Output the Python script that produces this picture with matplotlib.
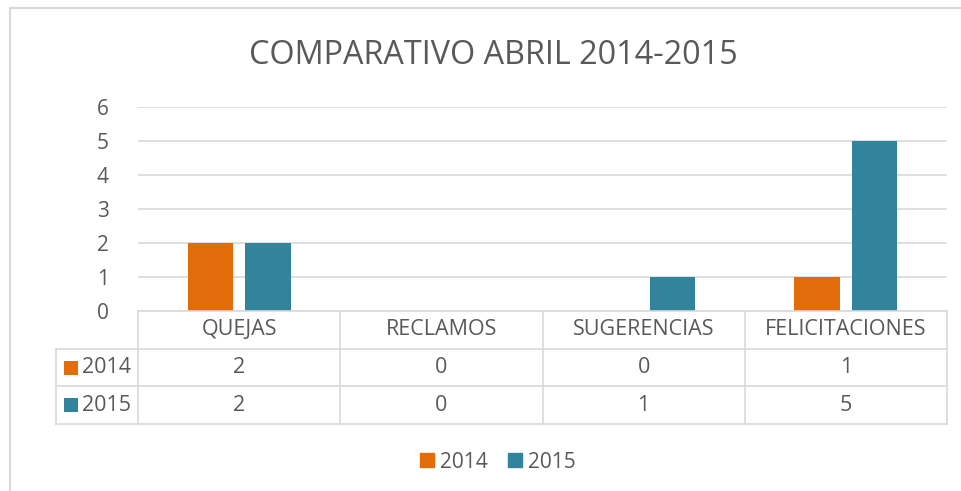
import matplotlib.pyplot as plt
import numpy as np

categories = ["QUEJAS", "RECLAMOS", "SUGERENCIAS", "FELICITACIONES"]
series_names = ["2014", "2015"]
values_2014 = [2, 0, 0, 1]
values_2015 = [2, 0, 1, 5]
yticks = [0, 1, 2, 3, 4, 5, 6]

colors = ["#E36C0A", "#31849B"]
text_color = "#595959"
line_color = "#D9D9D9"

plt.rcParams['font.family'] = ['Open Sans', 'DejaVu Sans']

W, H = 962, 491
fig = plt.figure(figsize=(W / 100, H / 100), dpi=100)


def fx(px):
    return px / W


def fy(py):
    return 1 - py / H


# outer chart frame (left and top edges visible)
fig.add_artist(plt.Line2D([fx(10), fx(10)], [fy(8), fy(491)], color=line_color, lw=1.5))
fig.add_artist(plt.Line2D([fx(10), fx(962)], [fy(8), fy(8)], color=line_color, lw=1.5))

# plot area
left, right, top, bottom = 138, 947, 107, 311
ax = fig.add_axes([fx(left), fy(bottom), fx(right - left), fy(top) - fy(bottom)])
x = np.arange(len(categories))
bw = 0.225
gap = 0.06
ax.bar(x - (bw + gap) / 2, values_2014, bw, color=colors[0], zorder=3)
ax.bar(x + (bw + gap) / 2, values_2015, bw, color=colors[1], zorder=3)
ax.set_xlim(-0.5, len(categories) - 0.5)
ax.set_ylim(0, 6)
ax.set_yticks(yticks)
ax.set_yticklabels([str(t) for t in yticks], fontsize=15, color=text_color)
ax.tick_params(axis='y', length=0, pad=21)
ax.set_xticks([])
for s in ax.spines.values():
    s.set_visible(False)
ax.yaxis.grid(True, color=line_color, lw=1.2, zorder=0)

fig.text(fx(493), fy(55), "COMPARATIVO ABRIL 2014-2015", fontsize=23.3,
         color=text_color, ha='center', va='center')

# data table below the plot
tab_bottom = 424
cat_w = (right - left) / len(categories)
tax = fig.add_axes([fx(left), fy(tab_bottom), fx(right - left), fy(bottom) - fy(tab_bottom)])
tax.set_xlim(-0.5, len(categories) - 0.5)
tax.set_ylim(0, 3)
tax.axis('off')
label_left = -0.5 - (left - 56) / cat_w
lw = 1.2
tax.plot([-0.5, 3.5], [3, 3], color=line_color, lw=lw, clip_on=False)
for yy in [2, 1, 0]:
    tax.plot([label_left, 3.5], [yy, yy], color=line_color, lw=lw, clip_on=False)
for xx in np.arange(len(categories) + 1) - 0.5:
    tax.plot([xx, xx], [0, 3], color=line_color, lw=lw, clip_on=False)
tax.plot([label_left, label_left], [0, 2], color=line_color, lw=lw, clip_on=False)

fs = 15.5
for i, cat in enumerate(categories):
    tax.text(i, 2.5, cat, ha='center', va='center', fontsize=fs, color=text_color)
rows = [values_2014, values_2015]
for r, (name, vals) in enumerate(zip(series_names, rows)):
    yc = 1.5 - r
    for i, v in enumerate(vals):
        tax.text(i, yc, str(v), ha='center', va='center', fontsize=fs, color=text_color)
    tax.text(label_left + 26 / cat_w, yc, name, ha='left', va='center', fontsize=fs,
             color=text_color, clip_on=False)
    tax.scatter([label_left + 15 / cat_w], [yc], marker='s', s=105, color=colors[r],
                clip_on=False, linewidths=0)

# legend
handles = [plt.Rectangle((0, 0), 1, 1, color=c) for c in colors]
fig.legend(handles, series_names, loc='center', bbox_to_anchor=(fx(498), fy(462)),
           ncol=2, frameon=False, fontsize=15, handlelength=0.65, handleheight=0.65,
           handletextpad=0.3, columnspacing=1.0, labelcolor=text_color)

fig.savefig("out.png", dpi=100)
